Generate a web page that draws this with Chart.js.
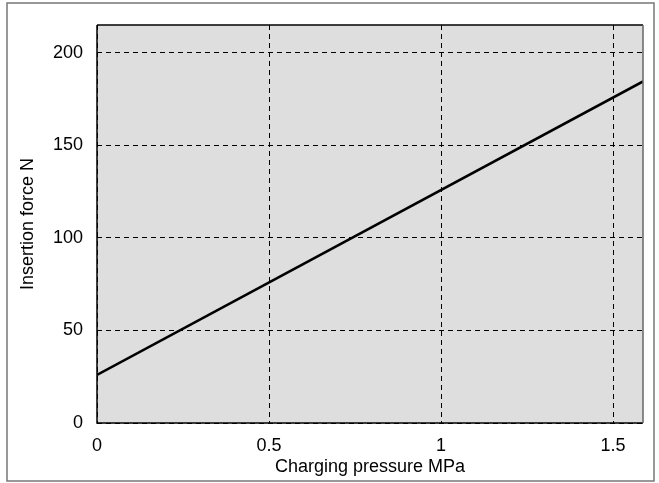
<!DOCTYPE html>
<html>
<head>
<meta charset="utf-8">
<script src="https://cdn.jsdelivr.net/npm/chart.js@4"></script>
<style>
  html, body { margin: 0; padding: 0; background: #fff; }
  #wrap { width: 659px; height: 483px; }
</style>
</head>
<body>
<div id="wrap"><canvas id="myChart" width="659" height="483"></canvas></div>
<script>
const pressure = [0, 1.587];
const force = [26, 184.5];
const xTicks = [0, 0.5, 1, 1.5];
const yTicks = [0, 50, 100, 150, 200];

const font = { family: "'Liberation Sans', Arial, sans-serif", size: 18 };

// grey plot area plus the frame round the whole picture
const frame = {
  id: 'frame',
  beforeDraw(chart) {
    const { ctx, chartArea: a } = chart;
    ctx.save();
    ctx.fillStyle = '#fff';
    ctx.fillRect(0, 0, chart.width, chart.height);
    ctx.strokeStyle = '#777';
    ctx.lineWidth = 1.5;
    ctx.strokeRect(7, 3, 647, 478);
    ctx.fillStyle = '#dedede';
    ctx.fillRect(a.left, a.top, a.right - a.left, a.bottom - a.top);
    ctx.restore();
  },
  afterDatasetsDraw(chart) {
    const { ctx, chartArea: a } = chart;
    ctx.save();
    ctx.strokeStyle = '#000';
    ctx.lineWidth = 1.5;
    ctx.beginPath();
    ctx.moveTo(a.left, a.top);
    ctx.lineTo(a.left, a.bottom);
    ctx.lineTo(a.right, a.bottom);
    ctx.stroke();
    ctx.beginPath();
    ctx.moveTo(a.left, a.top);
    ctx.lineTo(a.right, a.top);
    ctx.stroke();
    ctx.strokeStyle = '#666';
    ctx.beginPath();
    ctx.moveTo(a.right, a.top);
    ctx.lineTo(a.right, a.bottom);
    ctx.stroke();
    ctx.restore();
  }
};

const data = {
  datasets: [{
    data: pressure.map((p, i) => ({ x: p, y: force[i] })),
    borderColor: '#000',
    borderWidth: 2.5,
    pointRadius: 0,
    tension: 0
  }]
};

const config = {
  type: 'line',
  data: data,
  plugins: [frame],
  options: {
    responsive: false,
    animation: false,
    layout: { padding: { top: 25, right: 16, left: 0, bottom: 0 } },
    plugins: {
      legend: { display: false },
      tooltip: { enabled: false }
    },
    scales: {
      x: {
        type: 'linear',
        min: 0,
        max: 1.587,
        afterFit(scale) { scale.height = 60; },
        afterBuildTicks(scale) { scale.ticks = xTicks.map(v => ({ value: v })); },
        grid: { color: '#000', lineWidth: 1, drawTicks: false },
        border: { display: false, dash: [5, 4] },
        ticks: { color: '#000', font: font, padding: 12, maxRotation: 0, callback: v => String(v) },
        title: { display: true, text: 'Charging pressure MPa', color: '#000', font: font, padding: { bottom: 5 } }
      },
      y: {
        min: 0,
        max: 215,
        afterFit(scale) { scale.width = 97; },
        afterBuildTicks(scale) { scale.ticks = yTicks.map(v => ({ value: v })); },
        grid: { color: '#000', lineWidth: 1, drawTicks: false },
        border: { display: false, dash: [5, 4] },
        ticks: { color: '#000', font: font, padding: 14, callback: v => String(v) },
        title: { display: true, text: 'Insertion force N', color: '#000', font: font, padding: { top: 17 } }
      }
    }
  }
};

const myChart = new Chart(document.getElementById('myChart'), config);
</script>
</body>
</html>
